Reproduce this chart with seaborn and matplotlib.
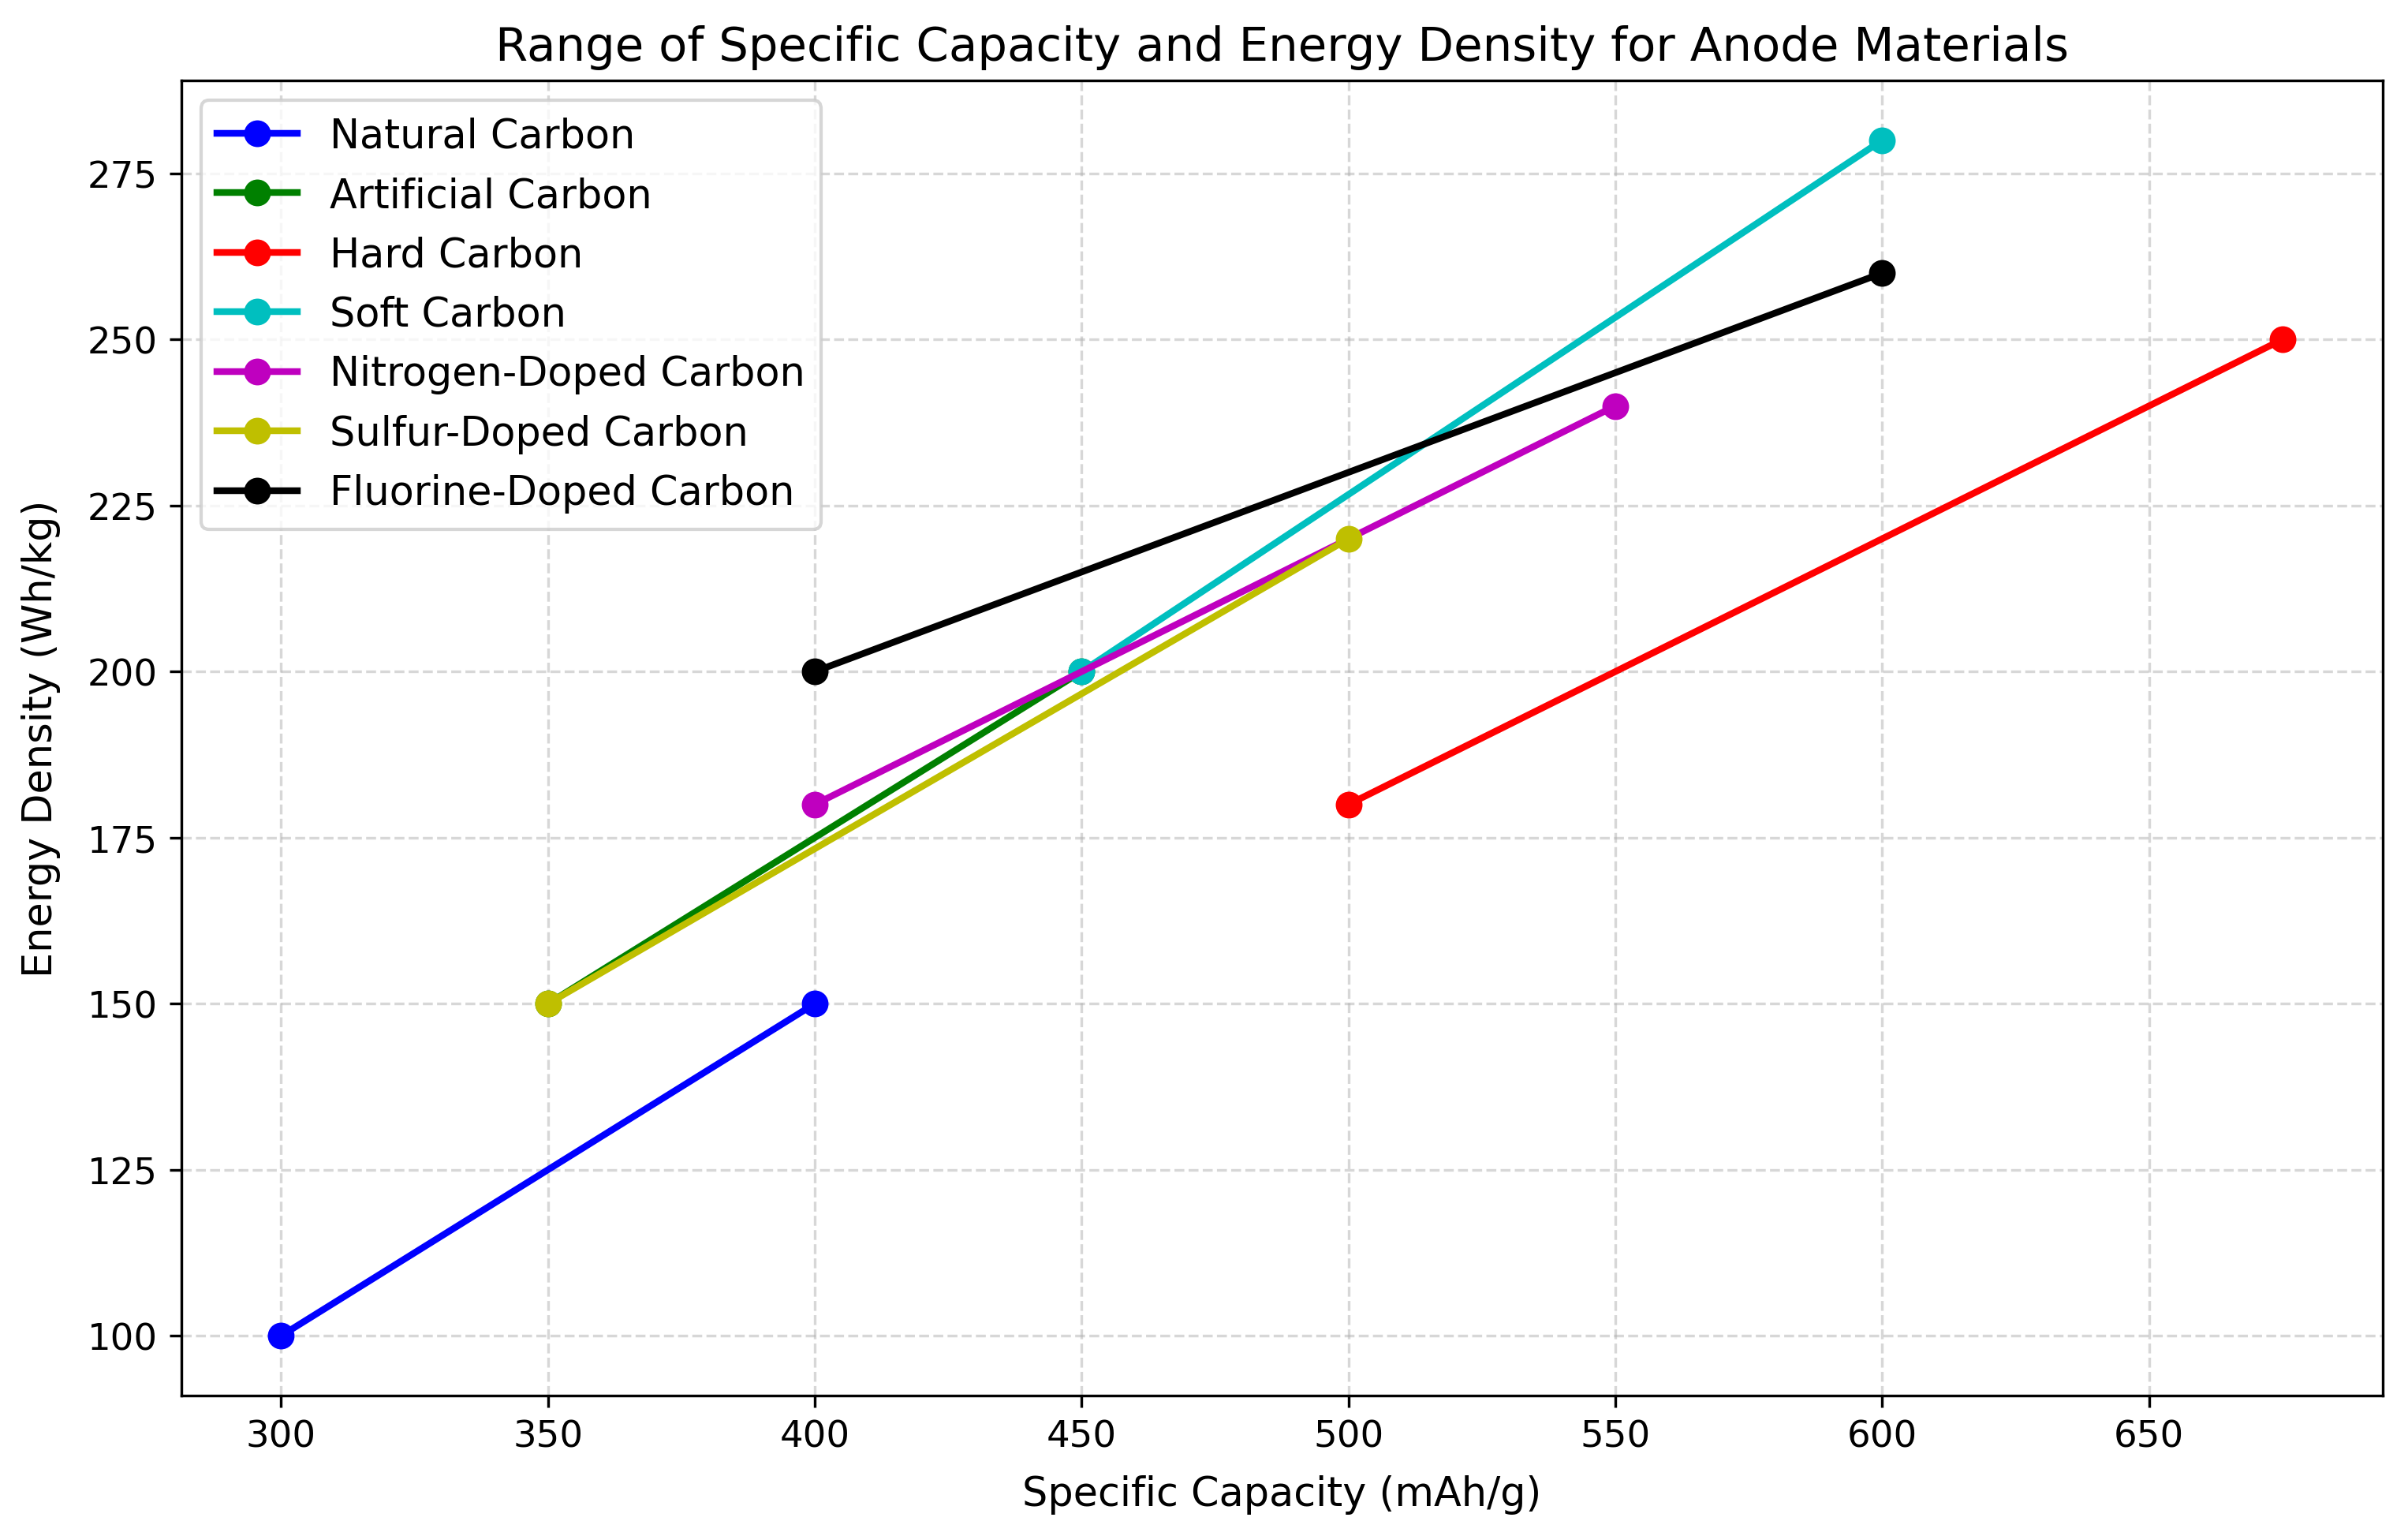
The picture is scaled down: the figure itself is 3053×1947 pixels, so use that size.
import pandas as pd
import matplotlib
matplotlib.use("Agg")
import matplotlib.pyplot as plt
import seaborn as sns

# dados: faixa de capacidade especifica e densidade de energia
materiais = ['Natural Carbon', 'Artificial Carbon', 'Hard Carbon', 'Soft Carbon',
             'Nitrogen-Doped Carbon', 'Sulfur-Doped Carbon', 'Fluorine-Doped Carbon']
capacidade = [[300, 400], [350, 450], [500, 675], [450, 600], [400, 550], [350, 500], [400, 600]]
densidade = [[100, 150], [150, 200], [180, 250], [200, 280], [180, 240], [150, 220], [200, 260]]
cores = ['b', 'g', 'r', 'c', 'm', 'y', 'k']

linhas = []
for nome, xs, ys in zip(materiais, capacidade, densidade):
    for x, y in zip(xs, ys):
        linhas.append({'Material': nome, 'Capacidade': x, 'Densidade': y})
df = pd.DataFrame(linhas)

fig, ax = plt.subplots(figsize=(10, 6.38))
sns.lineplot(data=df, x='Capacidade', y='Densidade', hue='Material',
             hue_order=materiais, palette=dict(zip(materiais, cores)),
             marker='o', markersize=8, linewidth=2, markeredgewidth=0,
             estimator=None, sort=False, ax=ax)

ax.set_title('Range of Specific Capacity and Energy Density for Anode Materials', fontsize=14)
ax.set_xlabel('Specific Capacity (mAh/g)', fontsize=12, labelpad=6)
ax.set_ylabel('Energy Density (Wh/kg)', fontsize=12, labelpad=8)
ax.tick_params(labelsize=11)
ax.legend(loc='upper left', fontsize=12)
ax.grid(True, linestyle='--', alpha=0.5)

fig.subplots_adjust(left=0.0752, right=0.9894, top=0.9472, bottom=0.0914)
plt.savefig('out.png', dpi=305.3)
